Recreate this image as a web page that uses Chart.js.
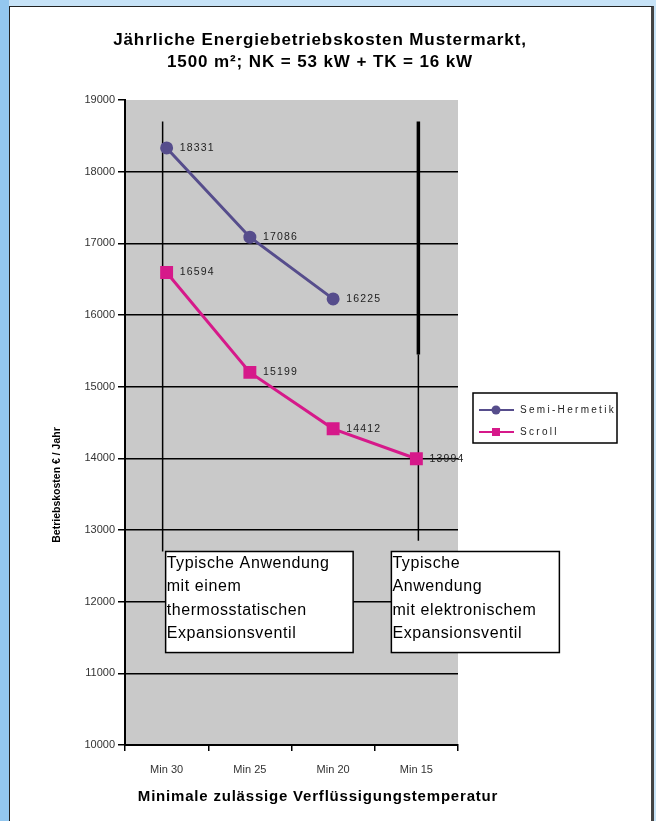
<!DOCTYPE html>
<html>
<head>
<meta charset="utf-8">
<script src="https://cdn.jsdelivr.net/npm/chart.js@4.4.1/dist/chart.umd.min.js"></script>
<style>
html, body { margin: 0; padding: 0; }
body { width: 656px; height: 821px; background: #c7e3f7; position: relative; overflow: hidden; }
#streifen { position: absolute; left: 0; top: 0; width: 9px; height: 821px; background: #93c7ef; }
#rahmen { position: absolute; left: 9px; top: 6px; width: 641px; height: 830px; background: #fff;
  border-top: 1px solid #222; border-left: 1px solid #222; border-right: 3px solid #444; }
#wrap { position: absolute; left: 0; top: 0; width: 656px; height: 821px; }
</style>
</head>
<body>
<div id="streifen"></div>
<div id="rahmen"></div>
<div id="wrap"><canvas id="kostenChart"></canvas></div>
<script>
// Daten
const kategorien = ['Min 30', 'Min 25', 'Min 20', 'Min 15'];
const semiHermetik = [18331, 17086, 16225, null];
const scrollWerte = [16594, 15199, 14412, 13994];
const yMin = 10000, yMax = 19000, yStep = 1000;

const titelZeilen = ['Jährliche Energiebetriebskosten Mustermarkt,', '1500 m²; NK = 53 kW + TK = 16 kW'];
const xTitel = 'Minimale zulässige Verflüssigungstemperatur';
const yTitel = 'Betriebskosten € / Jahr';
const hinweisLinks = ['Typische Anwendung', 'mit einem', 'thermosstatischen', 'Expansionsventil'];
const hinweisRechts = ['Typische', 'Anwendung', 'mit elektronischem', 'Expansionsventil'];

const farbeSemi = '#564d8c';
const farbeScroll = '#d6198a';

Chart.defaults.font.family = '"Liberation Sans", Arial, sans-serif';

// grauer Hintergrund der Zeichenfläche
const hintergrund = {
  id: 'hintergrund',
  beforeDraw(chart) {
    const { ctx, chartArea: a } = chart;
    ctx.save();
    ctx.fillStyle = '#c9c9c9';
    ctx.fillRect(a.left, a.top, a.right - a.left, a.bottom - a.top);
    ctx.restore();
  }
};

// senkrechte Linien und Textkästen
const hinweise = {
  id: 'hinweise',
  beforeDatasetsDraw(chart) {
    const { ctx, scales: { x, y } } = chart;
    const linie = (x1, y1, x2, y2, w) => {
      ctx.lineWidth = w;
      ctx.beginPath(); ctx.moveTo(x1, y1); ctx.lineTo(x2, y2); ctx.stroke();
    };
    const kasten = (l, r, t, b, zeilen) => {
      ctx.fillStyle = '#fff';
      ctx.fillRect(l, t, r - l, b - t);
      ctx.lineWidth = 1.5;
      ctx.strokeRect(l, t, r - l, b - t);
      ctx.fillStyle = '#000';
      ctx.font = '16px "Liberation Sans", Arial, sans-serif';
      ctx.letterSpacing = '0.6px';
      ctx.textBaseline = 'middle';
      ctx.textAlign = 'left';
      zeilen.forEach((z, i) => ctx.fillText(z, l + 1, t + 12 + i * 23.4));
    };
    ctx.save();
    ctx.strokeStyle = '#000';
    const xl = x.getPixelForValue(0) - 4;
    linie(xl, y.getPixelForValue(18700), xl, y.getPixelForValue(12700), 1.5);
    const xr = x.getPixelForValue(3) + 2;
    linie(xr, y.getPixelForValue(18700), xr, y.getPixelForValue(15450), 3.5);
    linie(xr, y.getPixelForValue(15450), xr, y.getPixelForValue(12850), 1.5);

    const top = y.getPixelForValue(12700), bottom = y.getPixelForValue(11290);
    kasten(x.getPixelForValue(0) - 1, x.getPixelForValue(2) + 20, top, bottom, hinweisLinks);
    kasten(x.getPixelForValue(3) - 25, x.getPixelForValue(3) + 143, top, bottom, hinweisRechts);
    ctx.restore();
  }
};

// Werte neben den Punkten
const wertLabels = {
  id: 'wertLabels',
  afterDatasetsDraw(chart) {
    const { ctx } = chart;
    ctx.save();
    ctx.font = '10.5px "Liberation Sans", Arial, sans-serif';
    ctx.letterSpacing = '1.2px';
    ctx.fillStyle = '#222';
    ctx.textBaseline = 'middle';
    ctx.textAlign = 'left';
    chart.data.datasets.forEach((ds, i) => {
      chart.getDatasetMeta(i).data.forEach((pt, j) => {
        if (ds.data[j] == null) return;
        ctx.fillText(String(ds.data[j]), pt.x + 13, pt.y);
      });
    });
    ctx.restore();
  }
};

// Titel, Achsentitel und Legende
const beschriftung = {
  id: 'beschriftung',
  afterDraw(chart) {
    const { ctx } = chart;
    ctx.save();
    ctx.fillStyle = '#000';
    ctx.textAlign = 'center';
    ctx.textBaseline = 'middle';
    ctx.font = 'bold 17px "Liberation Sans", Arial, sans-serif';
    ctx.letterSpacing = '0.9px';
    ctx.fillText(titelZeilen[0], 320, 40);
    ctx.fillText(titelZeilen[1], 320, 62);

    ctx.font = 'bold 15px "Liberation Sans", Arial, sans-serif';
    ctx.letterSpacing = '0.8px';
    ctx.fillText(xTitel, 318, 797);

    ctx.save();
    ctx.translate(57, 485);
    ctx.rotate(-Math.PI / 2);
    ctx.font = 'bold 10.5px "Liberation Sans", Arial, sans-serif';
    ctx.letterSpacing = '0px';
    ctx.fillText(yTitel, 0, 0);
    ctx.restore();

    // Legende
    ctx.fillStyle = '#fff';
    ctx.fillRect(473, 393, 144, 50);
    ctx.strokeStyle = '#000';
    ctx.lineWidth = 1.5;
    ctx.strokeRect(473, 393, 144, 50);
    ctx.textAlign = 'left';
    ctx.font = '10px "Liberation Sans", Arial, sans-serif';
    ctx.letterSpacing = '2.3px';
    chart.data.datasets.forEach((ds, i) => {
      const yy = 410 + i * 22;
      ctx.strokeStyle = ds.borderColor;
      ctx.lineWidth = 2;
      ctx.beginPath(); ctx.moveTo(479, yy); ctx.lineTo(514, yy); ctx.stroke();
      ctx.fillStyle = ds.borderColor;
      if (ds.pointStyle === 'rect') {
        ctx.fillRect(492, yy - 4, 8, 8);
      } else {
        ctx.beginPath(); ctx.arc(496, yy, 4.5, 0, Math.PI * 2); ctx.fill();
      }
      ctx.fillStyle = '#222';
      ctx.fillText(ds.label, 520, yy);
    });
    ctx.restore();
  }
};

const ctx1 = document.getElementById('kostenChart').getContext('2d');
const kostenChart = new Chart(ctx1, {
  type: 'line',
  data: {
    labels: kategorien,
    datasets: [
      {
        label: 'Semi-Hermetik',
        data: semiHermetik,
        borderColor: farbeSemi,
        backgroundColor: farbeSemi,
        borderWidth: 3,
        pointStyle: 'circle',
        pointRadius: 5,
        fill: false,
        spanGaps: false
      },
      {
        label: 'Scroll',
        data: scrollWerte,
        borderColor: farbeScroll,
        backgroundColor: farbeScroll,
        borderWidth: 3,
        pointStyle: 'rect',
        pointRadius: 7,
        fill: false
      }
    ]
  },
  options: {
    responsive: true,
    maintainAspectRatio: false,
    animation: false,
    layout: { autoPadding: false, padding: { left: 65, right: 198, top: 100, bottom: 36 } },
    plugins: {
      legend: { display: false },
      title: { display: false },
      tooltip: { enabled: false }
    },
    scales: {
      x: {
        offset: true,
        afterFit(s) { s.height = 40; },
        grid: { offset: true, drawOnChartArea: false, drawTicks: true, tickLength: 6, color: '#000', lineWidth: 1.5 },
        border: { color: '#000', width: 2 },
        ticks: { color: '#333', font: { size: 11 }, padding: 12 }
      },
      y: {
        min: yMin,
        max: yMax,
        afterFit(s) { s.width = 60; },
        grid: {
          color: (c) => c.tick && c.tick.value === yMax ? 'rgba(0,0,0,0)' : '#000',
          tickColor: '#000',
          lineWidth: 1.5,
          tickLength: 7
        },
        border: { color: '#000', width: 2 },
        ticks: { stepSize: yStep, color: '#333', font: { size: 11 }, padding: 3, callback: (v) => String(v) }
      }
    }
  },
  plugins: [hintergrund, hinweise, wertLabels, beschriftung]
});
</script>
</body>
</html>
